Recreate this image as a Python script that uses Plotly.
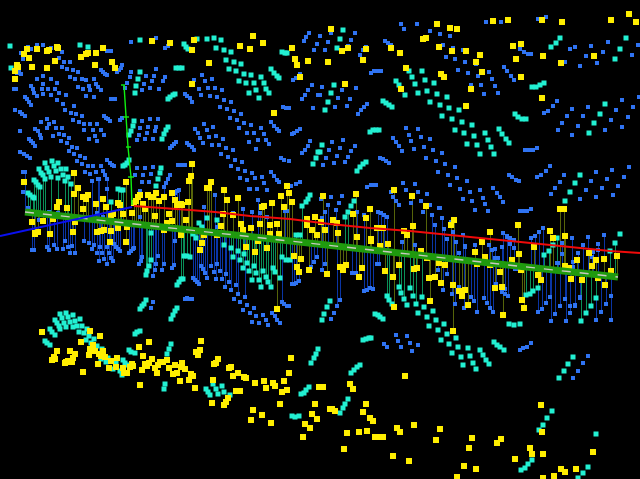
import plotly.graph_objects as go

yellow = [(27,49),(24,54),(29,58),(37,49),(47,51),(49,50),(57,47),(58,48),(17,65),(18,67),(15,71),(32,67),(47,68),(55,61),(15,79),(81,57),(86,54),(88,53),(96,53),(103,48),(95,65),(112,62),(115,68),(152,41),(170,43),(194,40),(192,50),(209,63),(192,84),(240,46),(250,49),(253,36),(263,43),(292,48),(295,59),(297,65),(308,61),(300,77),(274,113),
(331,29),(342,51),(348,48),(366,49),(328,62),(363,60),(391,48),(400,53),(437,24),(450,28),(457,29),(423,39),(426,38),(439,47),(452,51),(466,51),(480,55),(476,62),(493,21),(508,20),(542,20),(562,22),(611,20),(629,14),(636,22),(513,46),(521,44),(516,59),(543,56),(561,63),(594,56),(406,68),(441,74),(444,77),(482,72),(521,77),(401,89),(345,84),(471,89),(542,98),(466,106),
(24,182),(74,173),(78,188),(74,194),(83,197),(88,195),(86,199),(59,202),(57,207),(96,204),(103,199),(67,208),(83,209),(106,207),(118,203),(120,205),(126,182),(192,164),(191,176),(189,181),(211,182),(207,188),(209,188),(224,190),(227,200),(238,198),(272,203),(281,196),(287,186),(289,193),(292,202),(284,207),(262,207),(264,206),(140,195),(138,197),(136,201),(134,203),(148,195),(151,197),(153,197),(156,193),(159,201),(164,197),(172,193),(175,200),(177,205),(181,204),(182,205),(188,202),(143,204),(123,214),(132,213),(145,209),(155,216),(169,214),(167,223),(172,221),(186,220),(223,214),(233,215),(221,226),(241,224),(243,230),(251,228),(260,224),(270,225),(277,224),(270,234),(279,234),(307,219),(315,217),(312,230),(317,235),(307,225),(111,215),(113,214),(32,222),(43,221),(53,219),(75,222),(35,233),(38,232),(35,234),(50,234),(73,232),(97,232),(101,231),(104,230),(111,231),(118,228),(127,227),(164,230),(181,235),(204,235),(217,235),(110,242),(126,242),(202,243),(200,250),(246,247),(255,252),(258,241),(267,248),(294,256),(301,259),(297,267),(299,272),(309,270),(277,309),
(323,196),(356,194),(394,190),(412,196),(426,206),(370,209),(366,218),(353,214),(333,220),(337,223),(321,222),(325,230),(338,233),(357,237),(377,228),(383,228),(404,231),(407,235),(413,226),(451,225),(454,220),(490,232),(518,225),(550,231),(553,238),(565,236),(560,209),(564,209),(371,239),
(327,274),(340,267),(343,270),(346,265),(359,277),(362,268),(371,241),(380,246),(388,244),(385,271),(393,277),(399,265),(414,269),(417,268),(421,251),(427,258),(429,278),(435,277),(439,263),(445,265),(441,283),(453,285),(459,291),(465,290),(462,296),(430,301),(394,307),(468,305),(453,331),(475,252),(482,242),(485,257),(477,264),(490,265),(500,272),(512,260),(519,254),(521,270),(495,288),(502,287),(503,315),(522,300),(524,308),(534,247),(538,275),(541,280),(565,266),(569,268),(571,279),(577,260),(582,280),(589,253),(592,266),(596,260),(598,278),(604,259),(605,285),(611,271),(617,256),
(42,332),(90,331),(100,336),(81,342),(93,345),(90,349),(57,351),(70,351),(75,354),(54,357),(52,360),(55,359),(73,358),(72,362),(68,361),(65,363),(66,362),(89,355),(95,351),(103,351),(99,354),(101,356),(105,357),(98,364),(83,372),(111,361),(117,358),(109,368),(116,367),(123,368),(124,373),(127,373),(130,367),(132,364),(133,366),(139,347),(149,342),(143,356),(152,359),(145,364),(149,363),(147,366),(142,370),(155,368),(158,365),(160,362),(163,362),(167,360),(157,373),(169,368),(175,365),(173,374),(177,373),(182,363),(181,367),(185,369),(180,381),(140,385),(189,380),(191,374),(193,376),(195,388),(201,341),(196,352),(200,350),(198,355),(218,359),(216,363),(214,364),(213,380),(212,403),(229,368),(231,367),(238,373),(233,376),(244,377),(246,378),(255,383),(264,381),(266,388),(273,383),(275,386),(284,381),(282,392),(287,390),(236,391),(240,391),(228,398),(226,402),(224,405),(253,410),(251,420),(262,415),(271,423),(280,404),(291,358),(289,373),(319,387),(315,404),(312,414),(317,419),(305,424),(310,428),(303,437),
(405,376),(323,387),(321,387),(350,384),(353,389),(366,404),(363,412),(330,409),(332,409),(335,411),(370,418),(373,421),(414,425),(397,428),(400,432),(440,429),(436,440),(347,433),(359,432),(367,431),(375,437),(379,437),(383,437),(344,449),(393,456),(409,461),(472,438),(469,448),(501,439),(497,443),(464,466),(476,469),(457,477),(541,405),(542,432),(530,448),(532,454),(543,454),(515,459),(561,469),(565,472),(576,469),(593,452),(543,478),(554,476)]

cyan = [(10,46),(11,68),(80,45),(88,47),(140,40),(197,39),(207,39),(214,38),(221,40),(216,48),(224,50),(231,52),(184,44),(186,47),(188,49),(226,60),(234,62),(241,64),(229,69),(236,71),(244,74),(251,75),(261,77),(239,81),(246,83),(254,83),(264,83),(249,93),(256,90),(266,89),(269,93),(259,98),(271,69),(274,73),(277,76),(279,78),(282,52),(285,53),(287,53),(176,68),(179,68),(182,68),(168,99),(170,97),(173,95),(175,94),(140,72),(138,79),(136,86),(135,93),(134,121),(133,126),(131,131),(129,135),(168,127),(166,130),(164,134),(162,139),(123,166),(125,165),(127,163),(129,160),(161,168),(160,173),(158,179),(156,186),(45,163),(52,161),(58,163),(47,168),(54,166),(61,169),(66,169),(49,172),(56,171),(63,175),(68,177),(51,177),(58,178),(65,181),(71,184),(39,169),(41,173),(43,175),(45,179),(34,180),(36,182),(38,185),(40,187),(28,193),(30,195),(33,197),(34,198),(118,189),(121,190),(123,190),(316,158),(313,164),(318,152),(310,195),(308,199),(306,202),(302,206),(300,235),(296,235),(111,202),(199,223),(202,227),(207,218),(217,220),(193,234),(196,238),(151,233),
(343,30),(340,39),(337,48),(334,85),(331,93),(328,102),(325,110),(370,132),(373,130),(376,130),(379,130),(383,101),(386,103),(389,105),(392,107),(322,145),(320,152),(357,171),(360,167),(363,164),(366,162),(409,71),(422,71),(396,81),(399,85),(412,77),(425,80),(415,84),(434,83),(427,91),(418,93),(405,95),(437,94),(447,97),(430,102),(440,105),(449,108),(459,110),(442,116),(452,119),(462,122),(472,125),(455,130),(464,133),(474,136),(485,133),(488,140),(491,147),(467,144),(477,145),(480,154),(494,154),(499,129),(502,134),(506,139),(509,143),(515,114),(518,117),(522,119),(526,119),(532,87),(536,87),(540,85),(544,83),(551,47),(556,43),(560,38),(626,38),(620,49),(615,59),(605,104),(600,114),(594,123),(589,133),(580,175),(575,183),(570,192),(565,201),(620,234),(354,201),(351,206),(348,212),(345,217),
(615,243),(610,251),(544,255),(549,251),(553,245),(557,238),(538,288),(533,291),(530,294),(526,295),(596,298),(591,306),(586,313),(581,321),(509,324),(514,325),(520,324),(444,324),
(330,301),(327,307),(324,314),(322,320),(375,314),(378,315),(380,317),(383,319),(363,340),(366,339),(369,338),(371,338),(351,373),(354,370),(357,367),(360,365),(340,413),(343,408),(345,404),(348,399),(552,411),(547,418),(543,425),(539,430),(532,460),(528,464),(525,468),(521,470),(596,434),(588,467),(583,473),(578,478),(573,357),(568,364),(564,371),(559,378),(494,342),(497,345),(500,347),(504,350),(399,287),(401,293),(410,288),(413,296),(422,297),(404,299),(387,296),(389,300),(392,304),(407,305),(416,304),(424,307),(418,313),(433,311),(427,317),(436,320),(429,326),(438,330),(447,334),(441,340),(456,338),(449,344),(458,347),(468,348),(452,353),(461,357),(470,356),(480,350),(483,355),(486,360),(489,364),(463,365),(473,363),(476,369),
(60,314),(66,313),(73,315),(62,318),(68,317),(80,319),(75,321),(55,320),(57,323),(64,323),(70,322),(59,326),(66,327),(73,327),(77,326),(82,326),(60,329),(79,332),(84,333),(87,329),(89,336),(94,339),(86,340),(91,343),(97,346),(50,329),(52,332),(55,335),(45,341),(47,343),(50,345),(102,349),(101,359),(106,362),(108,358),(116,362),(123,360),(125,363),(127,365),(113,369),(120,371),(122,375),(129,350),(131,352),(135,353),(171,344),(169,349),(167,354),(165,384),(164,389),(213,384),(222,386),(216,389),(206,389),(208,392),(210,395),(224,392),(218,394),(230,395),(311,363),(314,358),(316,354),(318,349),(301,394),(304,393),(306,390),(309,387),(292,416),(295,417),(299,416),(135,334),(137,332),(140,331),(140,309),(142,306),(144,304),(146,300),(171,319),(173,315),(175,311),(177,308),(177,285),(179,282),(181,279),(183,279),(146,275),(147,271),(149,266),(151,260),(184,256),(187,256),(190,257),(224,245),(231,248),(233,257),(238,251),(240,260),(244,254),(247,263),(243,268),(249,271),(254,266),(256,273),(263,271),(266,277),(259,280),(252,280),(268,282),(261,287),(271,287),(280,278),(275,272),(273,268),(282,257),(286,260),(290,260)]

# read in thirds of a pixel
blue_tl = [(85,140),(110,136),(130,136),(152,144),(172,148),(92,148),(62,160),(70,178),(187,157),(178,175),(193,187),(211,187),(187,202),(202,208),(220,211),(235,217),(211,232),(226,238),(247,238),(259,241),(283,238),(235,262),(250,268),(271,271),(268,259),(289,253),(295,262),(304,271),(259,289),(283,292),(110,238),(130,229),(152,238),(130,253),(172,250),(92,259),(100,268),(125,268),(145,268),(166,268),(103,280),(110,289),(130,283),(152,286),(178,280),(199,286),(172,301),(190,313),(196,331),(223,319),(214,340),(229,343),(247,349),(220,361),(238,367),(253,373),(271,373),(292,373),(253,391),(280,391),(304,391),(313,406),(286,409),(268,418),(292,424),(76,292),(82,298),(88,307),(94,316),(46,331),(61,337),(67,343),(76,349),(42,268),(48,268),(51,220),(58,217),(64,223),(304,211),(310,217),(316,223),(322,226),(322,154),(328,154),(334,154),(352,217),(358,211),(364,205),(367,196),(334,298),(340,298),(346,298),(313,349),(319,355),(325,358),(331,364),(361,360),(367,355),(124,367),(142,358),(148,373),(163,367),(106,388),(115,394),(121,406),(124,415),(142,385),(169,385),(187,385),(160,409),(178,403),(193,406),(208,415),(184,424),(202,430),(217,442),(232,445),(208,454),(223,463),(241,469),(256,475),(232,484),(247,493),(265,499),(280,499),(304,499),(256,517),(271,523),(289,517),(310,514),(316,526),(295,538),(322,538),(88,418),(94,424),(100,430),(106,439),(61,457),(73,463),(82,469),(91,475),(60,394),(70,517),(76,517),(322,481),(331,490),(337,496),(343,499),
(394,127),(469,115),(496,145),(505,139),(394,217),(389,232),(382,250),(376,265),(439,229),(463,229),(469,208),(490,244),(496,232),(457,244),(433,253),(451,265),(478,268),(427,271),(427,364),(451,358),(475,358),(421,385),(445,382),(469,382),(442,400),(418,406),(466,394),(436,418),(460,418),(412,421),(607,226),(637,238),(616,244),(583,241),(598,268),(625,265),(646,265),(667,271),(604,286),(631,289),(652,292),(673,301),(694,307),(661,322),(682,328),(703,334),(724,343),(691,355),(712,361),(733,370),(754,376),(718,385),(742,400),(763,400),(784,385),(793,403),(775,421),(799,421),(748,427),(808,433),(769,448),(556,283),(562,289),(571,295),(577,307),(613,373),(622,391),(640,382),(586,388),(595,400),(601,415),(628,412),(649,409),(670,418),(610,430),(637,436),(658,436),(679,445),(700,451),(664,463),(685,472),(706,481),(727,487),(694,499),(715,508),(736,514),(757,520),(721,535),(742,541),(766,535),(787,532),(814,517),(823,529),(832,541),(838,547),(793,550),(772,568),(751,568),(802,571),(562,430),(568,436),(577,442),(583,451),(529,427),(523,433),(517,439),(511,445),(535,496),(545,496),(555,496),(412,505),(436,505),(460,502),(406,526),(430,526),(454,523),(511,526),(505,538),(499,550),(493,562),(427,547),(448,547),(421,574),(538,571),(532,574),(526,580),(913,124),(919,112),(928,100),(943,151),(952,133),(880,241),(889,235),(901,223),(937,256),(925,271),(916,286),(907,298),(955,285),(940,325),(850,322),(859,325),(868,325),(814,367),(823,379),(832,388),(838,394),(877,403),(883,400),(892,394),(901,388),(931,424),(925,439),(916,451),(907,460),(844,475),(853,481),(868,484),(874,559),(889,553),(901,547),
(70,577),(277,544),(298,538),(322,568),(613,622),(646,586),(730,628),(757,637),(775,601),(748,568),(854,634),(862,634),(700,640),(148,635),(118,660),(85,625),(175,640),(200,655),(290,640),(310,650),(420,650),(650,680),(780,640),(800,650)]

blue_tr = [(0,109),(34,100),(25,127),(16,151),(94,121),(106,100),(85,139),(139,142),(130,151),(121,166),(196,124),(205,130),(214,136),(244,73),(253,88),(292,73),(331,94),(361,103),(391,109),(370,136),(400,145),(430,151),(379,172),(406,178),(436,187),(415,211),(445,220),(469,193),(475,229),(508,217),(517,238),(526,259),(535,280),(493,283),(484,256),(454,256),(499,67),(544,67),(655,58),(679,52),(601,148),(613,157),(625,163),(633,163),(553,202),(562,214),(574,229),(583,241),(163,214),(172,214),(184,214),(154,220),(7,262),(67,271),(109,265),(55,295),(91,298),(0,286),(46,322),(82,319),(124,331),(133,322),(142,313),(115,343),(766,142),(814,139),(865,127),(955,136),(937,166),(850,157),(799,169),(751,148),(736,187),(781,199),(832,190),(712,304),(700,319),(685,334),(673,340),(757,328),(742,349),(727,370),(715,391),(805,322),(790,349),(775,379),(757,406),(907,301),(889,331),(874,361),(856,391),(958,292),(940,322),(925,352),(907,382),
(259,385),(295,388),(220,415),(229,427),(238,439),(247,454),(268,406),(304,412),(274,424),(331,418),(283,448),(313,442),(340,451),(367,460),(319,475),(349,484),(376,493),(406,502),(355,517),(385,526),(412,535),(442,544),(391,556),(421,568),(451,577),(481,571),(430,598),(457,604),(490,595),(496,613),(520,565),(532,580),(541,592),(550,607),(181,475),(190,478),(199,484),(208,490),(70,421),(37,427),(61,445),(28,451),(106,439),(94,454),(19,475),(52,469),(85,472),(10,496),(43,490),(76,487),(616,451),(628,451),(640,451),(652,445),(568,526),(577,532),(589,541),(598,544),(691,499),(679,514),(664,526),(652,532),(733,526),(721,547),(706,565),(694,583),(829,517),(814,544),(799,571),(781,598),(877,511),(862,538),(847,565),(829,592),(928,502),(913,532),(895,559),(880,586),
(142,562),(154,556),(160,556),(169,556),(3,598),(34,592),(67,589),(25,616),(58,610),(16,637),(49,631),(7,655),(133,646),(112,637),(175,637),(184,640),(193,646),(202,652),(214,577),(220,592),(229,604),(238,616),(250,550),(259,571),(295,577),(322,583),(286,553),(304,604),(274,610),(331,616),(310,637),(337,646),(358,625),(367,655),(346,676),(373,688),(394,667),(466,631),(505,634),(430,706),(550,700),(562,709),(571,715),(583,720),(634,715),(646,709),(658,697),(670,685),(757,715),(805,712),(853,706),(601,634),(610,634),(622,634),(634,628)]

blue_bl = [(96,31),(102,31),(141,22),(148,31),(163,16),(172,28),(190,28),(205,22),(217,19),(211,40),(226,40),(196,4),(253,2),(268,10),(283,16),(277,28),(292,40),(307,40),(301,22),(322,22),(328,40),(298,64),(313,58),(322,73),(334,55),(340,64),(343,13),(349,22),(355,28),(361,34),(388,40),(394,34),(400,28),(403,25),(427,52),(424,64),(418,73),(475,49),(469,73),(493,73),(466,91),(487,91),(460,109),(523,76),(517,85),(526,4),(604,79),(610,88),(616,100),(622,115),(634,79),(643,97),(652,73),(661,94),(649,118),(667,118),(679,103),(688,127),(709,136),(676,142),(694,151),(715,163),(736,172),(703,178),(721,187),(742,196),(763,205),(730,211),(751,220),(769,229),(790,226),(817,220),(826,229),(832,241),(841,250),(757,247),(778,250),(799,241),(805,256),(579,115),(586,121),(592,127),(598,133),(556,178),(562,175),(568,178),(577,178),(460,187),(454,205),(847,187),(853,193),(862,199),(868,199),(877,133),(883,133),(889,130),(898,124),(943,67),(952,52),(934,82)]

blue_br = [(7,91),(16,72),(52,199),(61,181),(43,220),(34,238),(97,100),(108,99),(133,154),(142,151),(151,145),(160,148),(172,73),(178,73),(355,91),(382,103),(409,7),(436,19),(370,151),(397,163),(418,142),(454,172),(406,193),(433,205),(472,217),(493,175),(502,190),(511,205),(520,217),(529,133),(547,154),(556,148),(565,169),(535,55),(526,28),(466,16),(286,16),(247,7),(229,286),(262,289),(235,304),(193,313),(202,322),(244,322),(271,310),(295,316),(277,334),(601,331),(610,325),(622,322),(634,310),(805,349),(790,370),(775,394),(760,415),(655,217),(667,208),(679,190),(691,172),(706,223),(721,199),(736,178),(694,244),(739,244),(751,199),(766,199),(781,172),(829,241),(844,217),(859,193),(874,169),(874,241),(775,40),(835,13),(790,16),(820,37),(725,10),(760,80),(584,88),(592,88),(712,70)]

blue_rb = [(0,25),(7,55),(13,88),(22,118),(40,97),(70,105),(76,140),(58,160),(106,31),(145,34),(136,13),(97,4),(190,7),(190,100),(148,136),(157,151),(166,175),(202,110),(223,121),(211,133),(187,142),(274,115),(298,97),(310,85),(286,142),(223,145),(367,163),(355,190),(397,115),(445,112),(430,136),(415,160),(400,187),(493,106),(475,149),(457,172),(274,28),(262,34),(247,34),(241,34),
(10,270),(37,283),(46,312),(73,325),(94,292),(103,304),(112,337),(133,295),(151,325),(160,337),(187,275),(196,283),(205,289),(295,337),(307,328),(319,310),(331,292),(346,343),(361,319),(376,298),(391,340),(406,316),(421,295),(334,364),(379,364),(469,361),(484,337),(499,313),(514,289),(514,361)]

band_x = [25, 618]
band_y = [212, 277]
red_x = [134, 165, 190, 215, 250, 290, 330, 370, 410, 450, 490, 530, 570, 610, 640]
red_y = [206, 208, 210, 212, 216, 219, 224, 228, 231, 235, 239, 243, 247, 251, 253]
blue_axis_x = [0, 132]
blue_axis_y = [236, 207]
green_axis_x = [124, 126, 128, 131, 132]
green_axis_y = [85, 117, 147, 177, 205]
tick_xs = [(121, 125, 85), (123, 129, 117), (126, 131, 147), (128, 134, 177)]

blue = ([(round(x/3), round(y/3)) for x, y in blue_tl] + [(round(320+x/3), round(y/3)) for x, y in blue_tr]
        + [(round(x/3), round(240+y/3)) for x, y in blue_bl] + [(round(320+x/3), round(240+y/3)) for x, y in blue_br]
        + [(round(440+x/3), round(200+y/3)) for x, y in blue_rb])


def base(x):
    return band_y[0] + (x - band_x[0]) * (band_y[1] - band_y[0]) / (band_x[1] - band_x[0])


def stems(points, up, down):
    xs, ys = [], []
    for x, y in points:
        if band_x[0] <= x <= band_x[1] and -up <= y - base(x) <= down:
            xs += [x + 0.5, x + 0.5, None]
            ys += [y, base(x), None]
    return xs, ys


fig = go.Figure()
for pts, up, down, col in [(blue, 42, 62, "#0a35a5"), (cyan, 40, 50, "#0a8f58"), (yellow, 70, 75, "#56640a")]:
    sx, sy = stems(pts, up, down)
    fig.add_trace(go.Scatter(x=sx, y=sy, mode="lines", line=dict(color=col, width=1), hoverinfo="skip"))
for pts, size, col in [(blue, 4, "#2f73f2"), (cyan, 5, "#22f0d2"), (yellow, 6, "#ffee00")]:
    fig.add_trace(go.Scatter(x=[p[0] for p in pts], y=[p[1] for p in pts], mode="markers",
                             marker=dict(symbol="square", size=size, color=col, line=dict(width=0))))
fig.add_trace(go.Scatter(x=band_x, y=band_y, mode="lines", line=dict(color="#1f9a0e", width=7)))
fig.add_trace(go.Scatter(x=band_x, y=band_y, mode="lines", line=dict(color="#c8c8c0", width=1.4, dash="9px 9px")))
fig.add_trace(go.Scatter(x=blue_axis_x, y=blue_axis_y, mode="lines", line=dict(color="#0a10f0", width=2)))
fig.add_trace(go.Scatter(x=red_x, y=red_y, mode="lines", line=dict(color="#f00a0a", width=2)))
fig.add_trace(go.Scatter(x=green_axis_x, y=green_axis_y, mode="lines", line=dict(color="#10f010", width=1.4)))
tx, ty = [], []
for a, b, y in tick_xs:
    tx += [a, b, None]
    ty += [y, y, None]
fig.add_trace(go.Scatter(x=tx, y=ty, mode="lines", line=dict(color="#10f010", width=1.4)))

fig.update_layout(width=640, height=479, margin=dict(l=0, r=0, t=0, b=0), showlegend=False,
                  paper_bgcolor="black", plot_bgcolor="black")
fig.update_xaxes(range=[0, 640], visible=False)
fig.update_yaxes(range=[479, 0], visible=False)
fig.write_html("out.html", config={"displayModeBar": False},
               post_script="document.body.style.margin='0';document.body.style.background='black';document.documentElement.style.overflow='hidden';window.dispatchEvent(new Event('resize'));")
